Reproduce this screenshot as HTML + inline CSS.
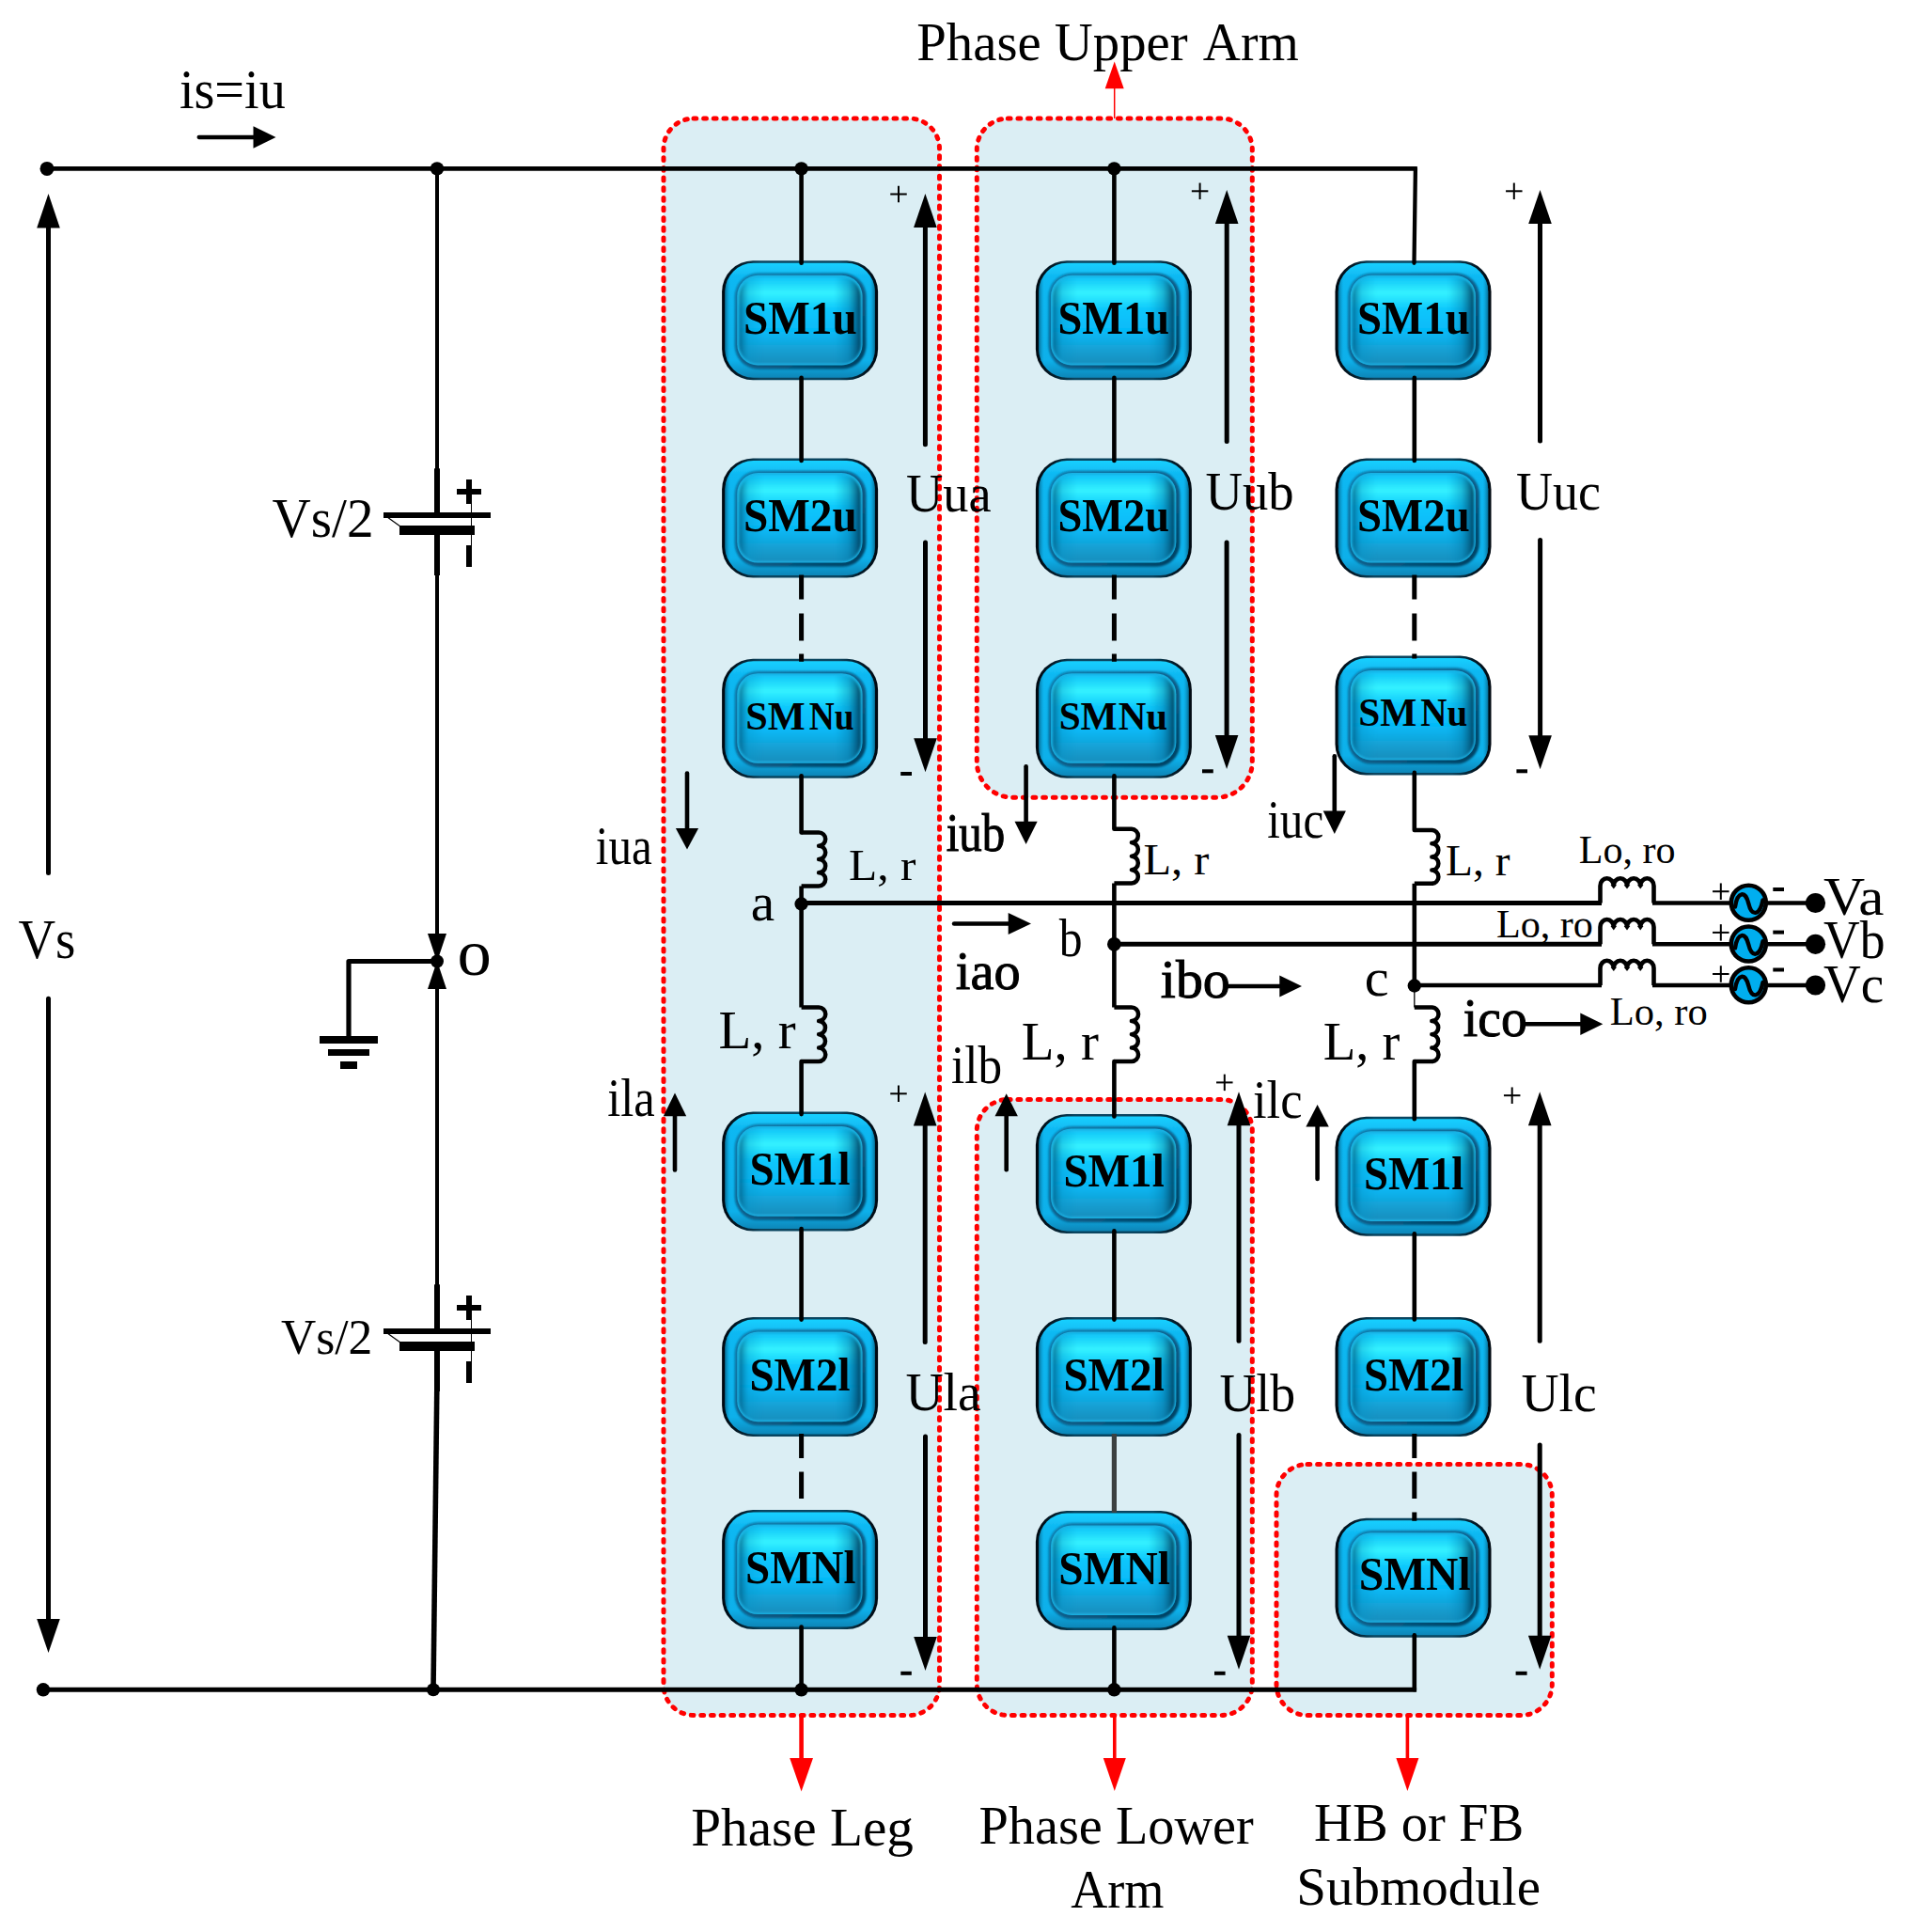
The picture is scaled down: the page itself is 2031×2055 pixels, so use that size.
<!DOCTYPE html>
<html><head><meta charset="utf-8"><title>MMC topology</title>
<style>
html,body{margin:0;padding:0;background:#fff;}
svg{display:block;}
text{font-family:"Liberation Serif",serif;}
</style></head><body>
<svg width="2031" height="2055" viewBox="0 0 2031 2055">
<defs>
<linearGradient id="gpanel" x1="0" y1="0" x2="0" y2="1">
<stop offset="0" stop-color="#10C4F8"/>
<stop offset="0.18" stop-color="#34F2FF"/>
<stop offset="0.38" stop-color="#0CC6FC"/>
<stop offset="0.62" stop-color="#06BAF8"/>
<stop offset="0.85" stop-color="#169FD2"/>
<stop offset="1" stop-color="#1A8FBE"/>
</linearGradient>
<linearGradient id="gside" x1="0" y1="0" x2="1" y2="0">
<stop offset="0" stop-color="#045A80" stop-opacity="0.8"/>
<stop offset="0.08" stop-color="#0890C4" stop-opacity="0.3"/>
<stop offset="0.2" stop-color="#0890C4" stop-opacity="0"/>
<stop offset="0.78" stop-color="#0890C4" stop-opacity="0"/>
<stop offset="0.9" stop-color="#0878A8" stop-opacity="0.45"/>
<stop offset="1" stop-color="#033E5C" stop-opacity="0.95"/>
</linearGradient>
<linearGradient id="gband" x1="0" y1="0" x2="0" y2="1">
<stop offset="0" stop-color="#18D0FF"/>
<stop offset="0.12" stop-color="#10B8F2"/>
<stop offset="0.85" stop-color="#10B0EA"/>
<stop offset="1" stop-color="#0C86B8"/>
</linearGradient>
<linearGradient id="gring" x1="0" y1="0" x2="1" y2="1">
<stop offset="0" stop-color="#0C7CAC"/>
<stop offset="0.5" stop-color="#08608C"/>
<stop offset="1" stop-color="#053E5E"/>
</linearGradient>
<linearGradient id="gouter" x1="0" y1="0" x2="1" y2="0">
<stop offset="0" stop-color="#000810"/>
<stop offset="0.12" stop-color="#041C2A"/>
<stop offset="0.25" stop-color="#0A4560"/>
<stop offset="0.75" stop-color="#0A4560"/>
<stop offset="0.88" stop-color="#041C2A"/>
<stop offset="1" stop-color="#000810"/>
</linearGradient>
<linearGradient id="gbside" x1="0" y1="0" x2="1" y2="0">
<stop offset="0" stop-color="#05506F" stop-opacity="0.7"/>
<stop offset="0.035" stop-color="#0890C4" stop-opacity="0"/>
<stop offset="0.965" stop-color="#0890C4" stop-opacity="0"/>
<stop offset="1" stop-color="#05506F" stop-opacity="0.7"/>
</linearGradient>
<filter id="b05" x="-10%" y="-10%" width="120%" height="120%"><feGaussianBlur stdDeviation="0.7"/></filter>
<filter id="b1" x="-10%" y="-10%" width="120%" height="120%"><feGaussianBlur stdDeviation="1.2"/></filter>
<filter id="b2" x="-10%" y="-10%" width="120%" height="120%"><feGaussianBlur stdDeviation="2"/></filter>
<g id="smb">
<rect x="0" y="0" width="166" height="127" rx="33" ry="33" fill="url(#gouter)"/>
<rect x="3.3" y="2.5" width="159.4" height="122" rx="30.2" ry="30.2" fill="url(#gband)" filter="url(#b05)"/>
<rect x="3.3" y="2.5" width="159.4" height="122" rx="30.2" ry="30.2" fill="url(#gbside)"/>
<rect x="13.6" y="13.2" width="139.8" height="102" rx="25" ry="25" fill="url(#gring)" filter="url(#b1)"/>
<rect x="16.2" y="15.5" width="133.2" height="95.6" rx="22" ry="22" fill="#1AB2E4" filter="url(#b05)"/>
<rect x="18.3" y="17.6" width="129.4" height="91.8" rx="20" ry="20" fill="url(#gpanel)" filter="url(#b1)"/>
<rect x="18.3" y="17.6" width="129.4" height="91.8" rx="20" ry="20" fill="url(#gside)" filter="url(#b1)"/>
</g>
</defs>
<rect width="2031" height="2055" fill="#fff"/>

<path d="M738,126 H967.5 A32,32 0 0 1 999.5,158 V1792.5 A32,32 0 0 1 967.5,1824.5 H738 A32,32 0 0 1 706,1792.5 V158 A32,32 0 0 1 738,126 Z" fill="#DBEEF4" stroke="#FF0000" stroke-width="5" stroke-dasharray="2.8 7.85" stroke-linecap="round"/>
<path d="M1072.3,126 H1299.3 A33,33 0 0 1 1332.3,159 V810.3 A38,38 0 0 1 1294.3,848.3 H1077.3 A38,38 0 0 1 1039.3,810.3 V159 A33,33 0 0 1 1072.3,126 Z" fill="#DBEEF4" stroke="#FF0000" stroke-width="5" stroke-dasharray="2.8 7.85" stroke-linecap="round"/>
<path d="M1072.3,1169.5 H1299.3 A33,33 0 0 1 1332.3,1202.5 V1791.5 A33,33 0 0 1 1299.3,1824.5 H1072.3 A33,33 0 0 1 1039.3,1791.5 V1202.5 A33,33 0 0 1 1072.3,1169.5 Z" fill="#DBEEF4" stroke="#FF0000" stroke-width="5" stroke-dasharray="2.8 7.85" stroke-linecap="round"/>
<path d="M1391,1557.5 H1618.3 A33,33 0 0 1 1651.3,1590.5 V1791.5 A33,33 0 0 1 1618.3,1824.5 H1391 A33,33 0 0 1 1358,1791.5 V1590.5 A33,33 0 0 1 1391,1557.5 Z" fill="#DBEEF4" stroke="#FF0000" stroke-width="5" stroke-dasharray="2.8 7.85" stroke-linecap="round"/>
<line x1="50" y1="179.4" x2="1507.8" y2="179.4" stroke="#000" stroke-width="4.8" stroke-linecap="butt"/>
<line x1="46" y1="1797.3" x2="1507.1" y2="1797.3" stroke="#000" stroke-width="5" stroke-linecap="butt"/>
<circle cx="50" cy="179.4" r="7.5" fill="#000"/>
<circle cx="46" cy="1797.3" r="7.2" fill="#000"/>
<circle cx="465" cy="179.4" r="7.2" fill="#000"/>
<circle cx="461" cy="1797.3" r="7" fill="#000"/>
<line x1="51.5" y1="928.4" x2="51.5" y2="241.5" stroke="#000" stroke-width="5" stroke-linecap="round"/>
<polygon points="39.2,242.5 63.8,242.5 51.5,206.0" fill="#000"/>
<line x1="51.5" y1="1062.3" x2="51.5" y2="1723" stroke="#000" stroke-width="5" stroke-linecap="round"/>
<polygon points="39.2,1722.0 63.8,1722.0 51.5,1758.0" fill="#000"/>
<text transform="translate(19.45,1018.60) scale(0.9294,1.0000)" font-size="59" fill="#000">Vs</text>
<text transform="translate(190.88,115.40) scale(0.9526,1.0000)" font-size="59" fill="#000">is=iu</text>
<line x1="211.65" y1="146" x2="270.5" y2="146" stroke="#000" stroke-width="4.3" stroke-linecap="round"/>
<polygon points="269.5,134.2 269.5,157.8 293.5,146.0" fill="#000"/>
<line x1="465" y1="179.4" x2="465" y2="548" stroke="#000" stroke-width="4" stroke-linecap="butt"/>
<line x1="465" y1="564" x2="465" y2="1000" stroke="#000" stroke-width="4" stroke-linecap="butt"/>
<line x1="465" y1="1045" x2="465" y2="1416" stroke="#000" stroke-width="4" stroke-linecap="butt"/>
<line x1="465" y1="1432" x2="465" y2="1480" stroke="#000" stroke-width="4" stroke-linecap="butt"/>
<line x1="464.8" y1="1478" x2="461" y2="1797.3" stroke="#000" stroke-width="5.6" stroke-linecap="butt"/>
<line x1="465" y1="498.3" x2="465" y2="548" stroke="#000" stroke-width="6" stroke-linecap="butt"/>
<line x1="465" y1="564" x2="465" y2="612" stroke="#000" stroke-width="6" stroke-linecap="butt"/>
<line x1="408" y1="548" x2="522" y2="548" stroke="#000" stroke-width="6" stroke-linecap="butt"/>
<line x1="425" y1="564" x2="505" y2="564" stroke="#000" stroke-width="10" stroke-linecap="butt"/>
<line x1="412" y1="550" x2="426" y2="560" stroke="#000" stroke-width="1.2" stroke-linecap="butt"/>
<line x1="486" y1="523" x2="512" y2="523" stroke="#000" stroke-width="6" stroke-linecap="butt"/>
<line x1="499" y1="510" x2="499" y2="536" stroke="#000" stroke-width="6" stroke-linecap="butt"/>
<line x1="501.5" y1="536" x2="501.5" y2="580" stroke="#000" stroke-width="1" stroke-linecap="butt"/>
<line x1="499" y1="580" x2="499" y2="603" stroke="#000" stroke-width="6" stroke-linecap="butt"/>
<line x1="465" y1="1366.3" x2="465" y2="1416" stroke="#000" stroke-width="6" stroke-linecap="butt"/>
<line x1="465" y1="1432" x2="465" y2="1480" stroke="#000" stroke-width="6" stroke-linecap="butt"/>
<line x1="408" y1="1416" x2="522" y2="1416" stroke="#000" stroke-width="6" stroke-linecap="butt"/>
<line x1="425" y1="1432" x2="505" y2="1432" stroke="#000" stroke-width="10" stroke-linecap="butt"/>
<line x1="412" y1="1418" x2="426" y2="1428" stroke="#000" stroke-width="1.2" stroke-linecap="butt"/>
<line x1="486" y1="1391" x2="512" y2="1391" stroke="#000" stroke-width="6" stroke-linecap="butt"/>
<line x1="499" y1="1378" x2="499" y2="1404" stroke="#000" stroke-width="6" stroke-linecap="butt"/>
<line x1="501.5" y1="1404" x2="501.5" y2="1448" stroke="#000" stroke-width="1" stroke-linecap="butt"/>
<line x1="499" y1="1448" x2="499" y2="1471" stroke="#000" stroke-width="6" stroke-linecap="butt"/>
<text transform="translate(289.43,571.00) scale(0.9696,1.0000)" font-size="59" fill="#000">Vs/2</text>
<text transform="translate(298.98,1439.50) scale(0.9729,1.0000)" font-size="53" fill="#000">Vs/2</text>
<polygon points="455.0,993.0 475.0,993.0 465.0,1023.0" fill="#000"/>
<polygon points="455.0,1052.0 475.0,1052.0 465.0,1022.0" fill="#000"/>
<circle cx="465" cy="1022.5" r="7" fill="#000"/>
<path d="M465,1022.5 H371 V1103" fill="none" stroke="#000" stroke-width="5.2" stroke-linejoin="round"/>
<line x1="340" y1="1106" x2="402" y2="1106" stroke="#000" stroke-width="8" stroke-linecap="butt"/>
<line x1="349" y1="1119.5" x2="393" y2="1119.5" stroke="#000" stroke-width="7" stroke-linecap="butt"/>
<line x1="362" y1="1133" x2="380" y2="1133" stroke="#000" stroke-width="8" stroke-linecap="butt"/>
<text transform="translate(486.60,1037.00) scale(1.0374,1.0000)" font-size="70" fill="#000">o</text>
<use href="#smb" x="768.1" y="277.3"/>
<use href="#smb" x="768.1" y="487.5"/>
<use href="#smb" x="768.1" y="700.7"/>
<use href="#smb" x="768.1" y="1182.6"/>
<use href="#smb" x="768.1" y="1401.1"/>
<use href="#smb" x="768.1" y="1606.0"/>
<text transform="translate(790.90,354.60) scale(0.9463,1.0000)" font-size="50" font-weight="bold" fill="#000">SM1u</text>
<text transform="translate(790.90,564.80) scale(0.9463,1.0000)" font-size="50" font-weight="bold" fill="#000">SM2u</text>
<text transform="translate(793.27,775.90) scale(0.9845,1.0000)" font-size="43" font-weight="bold" fill="#000">SM</text>
<text transform="translate(860.85,775.90) scale(0.8697,1.0000)" font-size="43" font-weight="bold" fill="#000">Nu</text>
<text transform="translate(797.41,1259.50) scale(0.9406,1.0000)" font-size="50" font-weight="bold" fill="#000">SM1l</text>
<text transform="translate(797.41,1478.70) scale(0.9406,1.0000)" font-size="50" font-weight="bold" fill="#000">SM2l</text>
<text transform="translate(793.01,1684.10) scale(0.9410,1.0000)" font-size="50" font-weight="bold" fill="#000">SMNl</text>
<use href="#smb" x="1101.9" y="277.3"/>
<use href="#smb" x="1101.9" y="487.5"/>
<use href="#smb" x="1101.9" y="700.7"/>
<use href="#smb" x="1101.9" y="1184.9"/>
<use href="#smb" x="1101.9" y="1401.1"/>
<use href="#smb" x="1101.9" y="1606.9"/>
<text transform="translate(1125.44,354.60) scale(0.9293,1.0000)" font-size="50" font-weight="bold" fill="#000">SM1u</text>
<text transform="translate(1125.44,564.80) scale(0.9293,1.0000)" font-size="50" font-weight="bold" fill="#000">SM2u</text>
<text transform="translate(1126.63,775.90) scale(0.9615,1.0000)" font-size="43" font-weight="bold" fill="#000">SM</text>
<text transform="translate(1189.68,775.90) scale(0.9529,1.0000)" font-size="43" font-weight="bold" fill="#000">Nu</text>
<text transform="translate(1131.41,1261.60) scale(0.9424,1.0000)" font-size="50" font-weight="bold" fill="#000">SM1l</text>
<text transform="translate(1131.41,1479.30) scale(0.9424,1.0000)" font-size="50" font-weight="bold" fill="#000">SM2l</text>
<text transform="translate(1126.29,1685.00) scale(0.9485,1.0000)" font-size="50" font-weight="bold" fill="#000">SMNl</text>
<use href="#smb" x="1420.5" y="277.3"/>
<use href="#smb" x="1420.5" y="487.5"/>
<use href="#smb" x="1420.5" y="697.4"/>
<use href="#smb" x="1420.5" y="1187.8"/>
<use href="#smb" x="1420.5" y="1400.9"/>
<use href="#smb" x="1420.5" y="1614.7"/>
<text transform="translate(1444.02,354.50) scale(0.9366,1.0000)" font-size="50" font-weight="bold" fill="#000">SM1u</text>
<text transform="translate(1444.02,564.60) scale(0.9366,1.0000)" font-size="50" font-weight="bold" fill="#000">SM2u</text>
<text transform="translate(1445.23,771.70) scale(0.9615,1.0000)" font-size="43" font-weight="bold" fill="#000">SM</text>
<text transform="translate(1511.22,771.70) scale(0.9075,1.0000)" font-size="43" font-weight="bold" fill="#000">Nu</text>
<text transform="translate(1450.93,1265.40) scale(0.9342,1.0000)" font-size="50" font-weight="bold" fill="#000">SM1l</text>
<text transform="translate(1450.93,1478.50) scale(0.9342,1.0000)" font-size="50" font-weight="bold" fill="#000">SM2l</text>
<text transform="translate(1445.78,1690.70) scale(0.9509,1.0000)" font-size="50" font-weight="bold" fill="#000">SMNl</text>
<line x1="852.6" y1="179.4" x2="852.6" y2="279.8" stroke="#000" stroke-width="4.6" stroke-linecap="round"/>
<line x1="852.6" y1="401.8" x2="852.6" y2="490.0" stroke="#000" stroke-width="4.6" stroke-linecap="round"/>
<line x1="852.6" y1="611.5" x2="852.6" y2="703.7" stroke="#000" stroke-width="5" stroke-linecap="butt" stroke-dasharray="26.0 15 29 14 40 0"/>
<line x1="852.6" y1="825.2" x2="852.6" y2="885.4" stroke="#000" stroke-width="4.6" stroke-linecap="round"/>
<path d="M852.6,885.4 H871.1 A7.12,7.12 0 0 1 871.1,899.65 A7.12,7.12 0 0 1 871.1,913.90 A7.12,7.12 0 0 1 871.1,928.15 A7.12,7.12 0 0 1 871.1,942.40 H852.6" fill="none" stroke="#000" stroke-width="4.5" stroke-linejoin="round"/>
<line x1="852.6" y1="942.4" x2="852.6" y2="1071.5" stroke="#000" stroke-width="4.6" stroke-linecap="butt"/>
<path d="M852.6,1071.5 H871.1 A7.19,7.19 0 0 1 871.1,1085.88 A7.19,7.19 0 0 1 871.1,1100.25 A7.19,7.19 0 0 1 871.1,1114.62 A7.19,7.19 0 0 1 871.1,1129.00 H852.6" fill="none" stroke="#000" stroke-width="4.5" stroke-linejoin="round"/>
<line x1="852.6" y1="1129" x2="852.6" y2="1185.1" stroke="#000" stroke-width="4.6" stroke-linecap="round"/>
<line x1="852.6" y1="1307.1" x2="852.6" y2="1403.6" stroke="#000" stroke-width="4.6" stroke-linecap="round"/>
<line x1="852.6" y1="1525.1" x2="852.6" y2="1603.0" stroke="#000" stroke-width="5" stroke-linecap="butt" stroke-dasharray="25.9 14.5 28.5 14.5 40 0"/>
<line x1="852.6" y1="1730.5" x2="852.6" y2="1797.3" stroke="#000" stroke-width="4.6" stroke-linecap="round"/>
<line x1="1185.4" y1="179.4" x2="1185.4" y2="279.8" stroke="#000" stroke-width="4.6" stroke-linecap="round"/>
<line x1="1185.4" y1="401.8" x2="1185.4" y2="490.0" stroke="#000" stroke-width="4.6" stroke-linecap="round"/>
<line x1="1185.4" y1="611.5" x2="1185.4" y2="703.7" stroke="#000" stroke-width="5" stroke-linecap="butt" stroke-dasharray="26.0 15 29 14 40 0"/>
<line x1="1185.4" y1="825.2" x2="1185.4" y2="881.8" stroke="#000" stroke-width="4.6" stroke-linecap="round"/>
<path d="M1185.4,881.8 H1203.9 A7.23,7.23 0 0 1 1203.9,896.25 A7.23,7.23 0 0 1 1203.9,910.70 A7.23,7.23 0 0 1 1203.9,925.15 A7.23,7.23 0 0 1 1203.9,939.60 H1185.4" fill="none" stroke="#000" stroke-width="4.5" stroke-linejoin="round"/>
<line x1="1185.4" y1="939.6" x2="1185.4" y2="1071.5" stroke="#000" stroke-width="4.6" stroke-linecap="butt"/>
<path d="M1185.4,1071.5 H1203.9 A7.19,7.19 0 0 1 1203.9,1085.88 A7.19,7.19 0 0 1 1203.9,1100.25 A7.19,7.19 0 0 1 1203.9,1114.62 A7.19,7.19 0 0 1 1203.9,1129.00 H1185.4" fill="none" stroke="#000" stroke-width="4.5" stroke-linejoin="round"/>
<line x1="1185.4" y1="1129" x2="1185.4" y2="1187.4" stroke="#000" stroke-width="4.6" stroke-linecap="round"/>
<line x1="1185.4" y1="1309.4" x2="1185.4" y2="1403.6" stroke="#000" stroke-width="4.6" stroke-linecap="round"/>
<line x1="1185.4" y1="1525.1" x2="1185.4" y2="1608.9" stroke="#3c4040" stroke-width="5.2" stroke-linecap="butt"/>
<line x1="1185.4" y1="1731.4" x2="1185.4" y2="1797.3" stroke="#000" stroke-width="4.6" stroke-linecap="round"/>
<line x1="1505.9" y1="179.4" x2="1504.5" y2="279.8" stroke="#000" stroke-width="4.3" stroke-linecap="round"/>
<line x1="1504.8" y1="401.8" x2="1504.8" y2="490.0" stroke="#000" stroke-width="4.6" stroke-linecap="round"/>
<line x1="1504.8" y1="611.5" x2="1504.8" y2="700.4" stroke="#000" stroke-width="5" stroke-linecap="butt" stroke-dasharray="26.0 15 29 14 40 0"/>
<line x1="1504.8" y1="821.9" x2="1504.8" y2="883" stroke="#000" stroke-width="4.6" stroke-linecap="round"/>
<path d="M1504.8,883 H1523.3 A7.10,7.10 0 0 1 1523.3,897.20 A7.10,7.10 0 0 1 1523.3,911.40 A7.10,7.10 0 0 1 1523.3,925.60 A7.10,7.10 0 0 1 1523.3,939.80 H1504.8" fill="none" stroke="#000" stroke-width="4.5" stroke-linejoin="round"/>
<line x1="1504.8" y1="939.8" x2="1504.8" y2="1050" stroke="#000" stroke-width="4.6" stroke-linecap="butt"/>
<line x1="1504.8" y1="1050" x2="1504.8" y2="1071.5" stroke="#000" stroke-width="1.3" stroke-linecap="butt"/>
<path d="M1504.8,1071.5 H1523.3 A7.19,7.19 0 0 1 1523.3,1085.88 A7.19,7.19 0 0 1 1523.3,1100.25 A7.19,7.19 0 0 1 1523.3,1114.62 A7.19,7.19 0 0 1 1523.3,1129.00 H1504.8" fill="none" stroke="#000" stroke-width="4.5" stroke-linejoin="round"/>
<line x1="1504.8" y1="1129" x2="1504.8" y2="1190.3" stroke="#000" stroke-width="4.6" stroke-linecap="round"/>
<line x1="1504.8" y1="1312.3" x2="1504.8" y2="1403.4" stroke="#000" stroke-width="4.6" stroke-linecap="round"/>
<line x1="1504.8" y1="1524.9" x2="1504.8" y2="1617.7" stroke="#000" stroke-width="5" stroke-linecap="butt" stroke-dasharray="26.1 14.5 28.5 14.5 40 0"/>
<line x1="1504.8" y1="1739.2" x2="1504.8" y2="1797.3" stroke="#000" stroke-width="4.6" stroke-linecap="round"/>
<circle cx="852.6" cy="179.4" r="7.2" fill="#000"/>
<circle cx="1185.4" cy="179.4" r="7.2" fill="#000"/>
<circle cx="852.6" cy="1797.3" r="7.2" fill="#000"/>
<circle cx="1185.4" cy="1797.3" r="7.2" fill="#000"/>
<line x1="852.6" y1="960.5" x2="1704" y2="960.5" stroke="#000" stroke-width="4.8" stroke-linecap="butt"/>
<line x1="1185.4" y1="1004.3" x2="1704" y2="1004.3" stroke="#000" stroke-width="5.0" stroke-linecap="butt"/>
<line x1="1504.8" y1="1048.0" x2="1704" y2="1048.0" stroke="#000" stroke-width="4.3" stroke-linecap="butt"/>
<circle cx="852.6" cy="961.5" r="7.2" fill="#000"/>
<circle cx="1185.4" cy="1004.3" r="7.4" fill="#000"/>
<circle cx="1504.8" cy="1048.5" r="7.2" fill="#000"/>
<path d="M1702.5,960.5 V942.2 A7.12,7.92 0 0 1 1716.75,942.2 A7.12,7.92 0 0 1 1731.00,942.2 A7.12,7.92 0 0 1 1745.25,942.2 A7.12,7.92 0 0 1 1759.50,942.2 V960.5" fill="none" stroke="#000" stroke-width="4.6" stroke-linejoin="miter"/>
<polygon points="1713.5,941.2 1720.0,941.2 1716.8,945.6" fill="#000"/>
<polygon points="1727.7,941.2 1734.3,941.2 1731.0,945.6" fill="#000"/>
<polygon points="1742.0,941.2 1748.5,941.2 1745.2,945.6" fill="#000"/>
<line x1="1758" y1="960.5" x2="1842" y2="960.5" stroke="#000" stroke-width="4.6" stroke-linecap="butt"/>
<line x1="1879" y1="960.5" x2="1931" y2="960.5" stroke="#000" stroke-width="4.6" stroke-linecap="butt"/>
<circle cx="1860.3" cy="960.2" r="18.5" fill="#00AEEF" stroke="#000" stroke-width="4.6"/>
<path d="M1846,964.5 C1848.5,948.0 1857,947.0 1860.3,961.0 C1863.5,974.5 1872,975.0 1875.5,957.5" fill="none" stroke="#000" stroke-width="4.4" stroke-linecap="round"/>
<circle cx="1931.5" cy="960.5" r="10.6" fill="#000"/>
<path d="M1702.5,1004.3 V986.0 A7.12,7.92 0 0 1 1716.75,986.0 A7.12,7.92 0 0 1 1731.00,986.0 A7.12,7.92 0 0 1 1745.25,986.0 A7.12,7.92 0 0 1 1759.50,986.0 V1004.3" fill="none" stroke="#000" stroke-width="4.6" stroke-linejoin="miter"/>
<polygon points="1713.5,985.0 1720.0,985.0 1716.8,989.4" fill="#000"/>
<polygon points="1727.7,985.0 1734.3,985.0 1731.0,989.4" fill="#000"/>
<polygon points="1742.0,985.0 1748.5,985.0 1745.2,989.4" fill="#000"/>
<line x1="1758" y1="1004.3" x2="1842" y2="1004.3" stroke="#000" stroke-width="4.6" stroke-linecap="butt"/>
<line x1="1879" y1="1004.3" x2="1931" y2="1004.3" stroke="#000" stroke-width="4.6" stroke-linecap="butt"/>
<circle cx="1860.3" cy="1004.0" r="18.5" fill="#00AEEF" stroke="#000" stroke-width="4.6"/>
<path d="M1846,1008.3 C1848.5,991.8 1857,990.8 1860.3,1004.8 C1863.5,1018.3 1872,1018.8 1875.5,1001.3" fill="none" stroke="#000" stroke-width="4.4" stroke-linecap="round"/>
<circle cx="1931.5" cy="1004.3" r="10.6" fill="#000"/>
<path d="M1702.5,1048.0 V1029.7 A7.12,7.92 0 0 1 1716.75,1029.7 A7.12,7.92 0 0 1 1731.00,1029.7 A7.12,7.92 0 0 1 1745.25,1029.7 A7.12,7.92 0 0 1 1759.50,1029.7 V1048.0" fill="none" stroke="#000" stroke-width="4.6" stroke-linejoin="miter"/>
<polygon points="1713.5,1028.7 1720.0,1028.7 1716.8,1033.1" fill="#000"/>
<polygon points="1727.7,1028.7 1734.3,1028.7 1731.0,1033.1" fill="#000"/>
<polygon points="1742.0,1028.7 1748.5,1028.7 1745.2,1033.1" fill="#000"/>
<line x1="1758" y1="1048.0" x2="1842" y2="1048.0" stroke="#000" stroke-width="4.6" stroke-linecap="butt"/>
<line x1="1879" y1="1048.0" x2="1931" y2="1048.0" stroke="#000" stroke-width="4.6" stroke-linecap="butt"/>
<circle cx="1860.3" cy="1047.7" r="18.5" fill="#00AEEF" stroke="#000" stroke-width="4.6"/>
<path d="M1846,1052.0 C1848.5,1035.5 1857,1034.5 1860.3,1048.5 C1863.5,1062.0 1872,1062.5 1875.5,1045.0" fill="none" stroke="#000" stroke-width="4.4" stroke-linecap="round"/>
<circle cx="1931.5" cy="1048.0" r="10.6" fill="#000"/>
<line x1="1822.05" y1="948.2" x2="1839.55" y2="948.2" stroke="#000" stroke-width="2.0" stroke-linecap="butt"/>
<line x1="1830.8" y1="939.45" x2="1830.8" y2="956.95" stroke="#000" stroke-width="2.0" stroke-linecap="butt"/>
<line x1="1822.05" y1="991.9" x2="1839.55" y2="991.9" stroke="#000" stroke-width="2.0" stroke-linecap="butt"/>
<line x1="1830.8" y1="983.15" x2="1830.8" y2="1000.65" stroke="#000" stroke-width="2.0" stroke-linecap="butt"/>
<line x1="1822.05" y1="1036" x2="1839.55" y2="1036" stroke="#000" stroke-width="2.0" stroke-linecap="butt"/>
<line x1="1830.8" y1="1027.25" x2="1830.8" y2="1044.75" stroke="#000" stroke-width="2.0" stroke-linecap="butt"/>
<line x1="1886.3" y1="946" x2="1898" y2="946" stroke="#000" stroke-width="4" stroke-linecap="butt"/>
<line x1="1886.3" y1="991.6" x2="1898" y2="991.6" stroke="#000" stroke-width="4" stroke-linecap="butt"/>
<line x1="1886.3" y1="1031.5" x2="1898" y2="1031.5" stroke="#000" stroke-width="4" stroke-linecap="butt"/>
<text transform="translate(1939.89,972.60) scale(1.0546,1.0000)" font-size="58" fill="#000">Va</text>
<text transform="translate(1939.96,1018.60) scale(0.9240,1.0000)" font-size="58" fill="#000">Vb</text>
<text transform="translate(1939.95,1065.50) scale(0.9502,1.0000)" font-size="58" fill="#000">Vc</text>
<text transform="translate(1679.74,917.60) scale(1.0025,1.0000)" font-size="42" fill="#000">Lo, ro</text>
<text transform="translate(1591.94,996.60) scale(1.0035,1.0000)" font-size="42" fill="#000">Lo, ro</text>
<text transform="translate(1712.72,1090.40) scale(1.0135,1.0000)" font-size="42" fill="#000">Lo, ro</text>
<line x1="984.4" y1="472.7" x2="984.4" y2="241" stroke="#000" stroke-width="5" stroke-linecap="round"/>
<polygon points="972.1,242.0 996.7,242.0 984.4,206.0" fill="#000"/>
<line x1="984.5" y1="577.0" x2="984.5" y2="786.3" stroke="#000" stroke-width="5" stroke-linecap="round"/>
<polygon points="972.2,785.3 996.8,785.3 984.5,821.3" fill="#000"/>
<line x1="1305.2" y1="469.5" x2="1305.2" y2="237" stroke="#000" stroke-width="5" stroke-linecap="round"/>
<polygon points="1292.9,238.0 1317.5,238.0 1305.2,202.0" fill="#000"/>
<line x1="1305.1" y1="576.9" x2="1305.1" y2="783" stroke="#000" stroke-width="5" stroke-linecap="round"/>
<polygon points="1292.8,782.0 1317.4,782.0 1305.1,818.0" fill="#000"/>
<line x1="1638.5" y1="469.1" x2="1638.5" y2="237" stroke="#000" stroke-width="5" stroke-linecap="round"/>
<polygon points="1626.2,238.0 1650.8,238.0 1638.5,202.0" fill="#000"/>
<line x1="1638.6" y1="574.5" x2="1638.6" y2="783.2" stroke="#000" stroke-width="5" stroke-linecap="round"/>
<polygon points="1626.3,782.2 1650.9,782.2 1638.6,818.2" fill="#000"/>
<line x1="984.2" y1="1427.5" x2="984.2" y2="1196.5" stroke="#000" stroke-width="5" stroke-linecap="round"/>
<polygon points="971.9,1197.5 996.5,1197.5 984.2,1161.5" fill="#000"/>
<line x1="984.5" y1="1528.1" x2="984.5" y2="1742" stroke="#000" stroke-width="5" stroke-linecap="round"/>
<polygon points="972.2,1741.0 996.8,1741.0 984.5,1777.0" fill="#000"/>
<line x1="1318" y1="1426.3" x2="1318" y2="1196.3" stroke="#000" stroke-width="5" stroke-linecap="round"/>
<polygon points="1305.7,1197.3 1330.3,1197.3 1318.0,1161.3" fill="#000"/>
<line x1="1318" y1="1526.5" x2="1318" y2="1740.8" stroke="#000" stroke-width="5" stroke-linecap="round"/>
<polygon points="1305.7,1739.8 1330.3,1739.8 1318.0,1775.8" fill="#000"/>
<line x1="1638.2" y1="1426.2" x2="1638.2" y2="1196.3" stroke="#000" stroke-width="5" stroke-linecap="round"/>
<polygon points="1625.9,1197.3 1650.5,1197.3 1638.2,1161.3" fill="#000"/>
<line x1="1638.2" y1="1537.1" x2="1638.2" y2="1740.8" stroke="#000" stroke-width="5" stroke-linecap="round"/>
<polygon points="1625.9,1739.8 1650.5,1739.8 1638.2,1775.8" fill="#000"/>
<text transform="translate(963.91,544.30) scale(0.9382,1.0000)" font-size="58" fill="#000">Uua</text>
<text transform="translate(1282.41,541.80) scale(0.9431,1.0000)" font-size="58" fill="#000">Uub</text>
<text transform="translate(1612.92,541.80) scale(0.9320,1.0000)" font-size="58" fill="#000">Uuc</text>
<text transform="translate(963.39,1500.30) scale(0.9767,1.0000)" font-size="57" fill="#000">Ula</text>
<text transform="translate(1297.52,1500.50) scale(0.9430,1.0000)" font-size="57" fill="#000">Ulb</text>
<text transform="translate(1618.39,1500.50) scale(0.9747,1.0000)" font-size="57" fill="#000">Ulc</text>
<line x1="947.25" y1="206.5" x2="964.75" y2="206.5" stroke="#000" stroke-width="2.0" stroke-linecap="butt"/>
<line x1="956" y1="197.75" x2="956" y2="215.25" stroke="#000" stroke-width="2.0" stroke-linecap="butt"/>
<line x1="1267.85" y1="203.3" x2="1285.35" y2="203.3" stroke="#000" stroke-width="2.0" stroke-linecap="butt"/>
<line x1="1276.6" y1="194.55" x2="1276.6" y2="212.05" stroke="#000" stroke-width="2.0" stroke-linecap="butt"/>
<line x1="1602.05" y1="203.3" x2="1619.55" y2="203.3" stroke="#000" stroke-width="2.0" stroke-linecap="butt"/>
<line x1="1610.8" y1="194.55" x2="1610.8" y2="212.05" stroke="#000" stroke-width="2.0" stroke-linecap="butt"/>
<line x1="958.2" y1="823" x2="970" y2="823" stroke="#000" stroke-width="4" stroke-linecap="butt"/>
<line x1="1279" y1="820.3" x2="1290.8" y2="820.3" stroke="#000" stroke-width="4" stroke-linecap="butt"/>
<line x1="1613.4" y1="820.3" x2="1625" y2="820.3" stroke="#000" stroke-width="4" stroke-linecap="butt"/>
<line x1="947.25" y1="1163.3" x2="964.75" y2="1163.3" stroke="#000" stroke-width="2.0" stroke-linecap="butt"/>
<line x1="956" y1="1154.55" x2="956" y2="1172.05" stroke="#000" stroke-width="2.0" stroke-linecap="butt"/>
<line x1="1294.05" y1="1151.4" x2="1311.55" y2="1151.4" stroke="#000" stroke-width="2.0" stroke-linecap="butt"/>
<line x1="1302.8" y1="1142.65" x2="1302.8" y2="1160.15" stroke="#000" stroke-width="2.0" stroke-linecap="butt"/>
<line x1="1599.95" y1="1165.2" x2="1617.45" y2="1165.2" stroke="#000" stroke-width="2.0" stroke-linecap="butt"/>
<line x1="1608.7" y1="1156.45" x2="1608.7" y2="1173.95" stroke="#000" stroke-width="2.0" stroke-linecap="butt"/>
<line x1="958.3" y1="1779.8" x2="969.8" y2="1779.8" stroke="#000" stroke-width="4" stroke-linecap="butt"/>
<line x1="1292" y1="1779.8" x2="1303.6" y2="1779.8" stroke="#000" stroke-width="4" stroke-linecap="butt"/>
<line x1="1612.6" y1="1779.8" x2="1624.6" y2="1779.8" stroke="#000" stroke-width="4" stroke-linecap="butt"/>
<line x1="731" y1="822.5" x2="731" y2="882.0" stroke="#000" stroke-width="4.6" stroke-linecap="round"/>
<polygon points="718.9,881.0 743.1,881.0 731.0,903.5" fill="#000"/>
<text transform="translate(633.82,918.70) scale(0.8461,1.0000)" font-size="58" fill="#000">iua</text>
<line x1="1091.6" y1="815.3" x2="1091.6" y2="874.7" stroke="#000" stroke-width="4.6" stroke-linecap="round"/>
<polygon points="1079.5,873.7 1103.7,873.7 1091.6,898.0" fill="#000"/>
<text transform="translate(1006.72,904.50) scale(0.8437,1.0000)" font-size="58" stroke="#000" stroke-width="1.0" fill="#000">iub</text>
<line x1="1419.8" y1="804.3" x2="1419.8" y2="863.5" stroke="#000" stroke-width="4.6" stroke-linecap="round"/>
<polygon points="1407.7,862.5 1431.9,862.5 1419.8,887.0" fill="#000"/>
<text transform="translate(1348.22,891.30) scale(0.8467,1.0000)" font-size="58" fill="#000">iuc</text>
<line x1="718" y1="1244.5" x2="718" y2="1186.3" stroke="#000" stroke-width="4.6" stroke-linecap="round"/>
<polygon points="705.8,1187.3 730.2,1187.3 718.0,1162.6" fill="#000"/>
<text transform="translate(646.19,1186.80) scale(0.8719,1.0000)" font-size="58" fill="#000">ila</text>
<line x1="1070.7" y1="1244.3" x2="1070.7" y2="1186.3" stroke="#000" stroke-width="4.6" stroke-linecap="round"/>
<polygon points="1058.5,1187.3 1082.9,1187.3 1070.7,1163.3" fill="#000"/>
<text transform="translate(1011.97,1151.60) scale(0.8837,1.0000)" font-size="58" fill="#000">ilb</text>
<line x1="1401.6" y1="1254.0" x2="1401.6" y2="1197.5" stroke="#000" stroke-width="4.6" stroke-linecap="round"/>
<polygon points="1389.4,1198.5 1413.8,1198.5 1401.6,1175.0" fill="#000"/>
<text transform="translate(1332.95,1188.80) scale(0.9074,1.0000)" font-size="58" fill="#000">ilc</text>
<line x1="1015.0999999999999" y1="982.5" x2="1073.7" y2="982.5" stroke="#000" stroke-width="4.6" stroke-linecap="round"/>
<polygon points="1072.7,971.0 1072.7,994.0 1097.0,982.5" fill="#000"/>
<text transform="translate(1016.87,1052.00) scale(0.9706,1.0000)" font-size="58" stroke="#000" stroke-width="1.0" fill="#000">iao</text>
<line x1="1306.3" y1="1049" x2="1362.3" y2="1049" stroke="#000" stroke-width="4.6" stroke-linecap="round"/>
<polygon points="1361.3,1037.5 1361.3,1060.5 1385.0,1049.0" fill="#000"/>
<text transform="translate(1234.84,1060.50) scale(0.9977,1.0000)" font-size="58" stroke="#000" stroke-width="1.0" fill="#000">ibo</text>
<line x1="1622.3" y1="1089.2" x2="1682.3" y2="1089.2" stroke="#000" stroke-width="4.6" stroke-linecap="round"/>
<polygon points="1681.3,1077.4 1681.3,1101.0 1705.3,1089.2" fill="#000"/>
<text transform="translate(1556.79,1101.70) scale(0.9587,1.0000)" font-size="58" stroke="#000" stroke-width="1.0" fill="#000">ico</text>
<text transform="translate(798.80,979.10) scale(1.0038,1.0000)" font-size="57" fill="#000">a</text>
<text transform="translate(1126.80,1016.50) scale(0.8851,1.0000)" font-size="56" fill="#000">b</text>
<text transform="translate(1451.66,1059.00) scale(1.0429,1.0000)" font-size="56" fill="#000">c</text>
<text transform="translate(903.12,936.30) scale(1.0525,1.0000)" font-size="47" fill="#000">L, r</text>
<text transform="translate(1216.45,930.30) scale(1.0298,1.0000)" font-size="47" fill="#000">L, r</text>
<text transform="translate(1538.08,930.50) scale(1.0070,1.0000)" font-size="47" fill="#000">L, r</text>
<text transform="translate(764.59,1114.90) scale(0.9977,1.0000)" font-size="57" fill="#000">L, r</text>
<text transform="translate(1086.79,1126.50) scale(0.9977,1.0000)" font-size="57" fill="#000">L, r</text>
<text transform="translate(1407.70,1126.50) scale(0.9939,1.0000)" font-size="57" fill="#000">L, r</text>
<line x1="1185.7" y1="93" x2="1185.7" y2="126" stroke="#FF0000" stroke-width="1.5" stroke-linecap="butt"/>
<polygon points="1175.7,94.3 1195.7,94.3 1185.7,65.5" fill="#FF0000"/>
<text transform="translate(975.30,64.20) scale(0.9953,1.0000)" font-size="57" fill="#000">Phase Upper</text>
<text transform="translate(1279.74,64.20) scale(0.9761,1.0000)" font-size="57" fill="#000">Arm</text>
<line x1="852.6" y1="1825.3" x2="852.6" y2="1871.0" stroke="#FF0000" stroke-width="4.6" stroke-linecap="round"/>
<polygon points="840.2,1870.0 865.0,1870.0 852.6,1905.5" fill="#FF0000"/>
<line x1="1185.8" y1="1824.8" x2="1185.8" y2="1871" stroke="#FF0000" stroke-width="3.6" stroke-linecap="round"/>
<polygon points="1173.8,1870.0 1197.8,1870.0 1185.8,1905.0" fill="#FF0000"/>
<line x1="1497.4" y1="1824.8" x2="1497.4" y2="1871" stroke="#FF0000" stroke-width="3.6" stroke-linecap="round"/>
<polygon points="1485.4,1870.0 1509.4,1870.0 1497.4,1905.0" fill="#FF0000"/>
<text transform="translate(735.28,1962.60) scale(1.0037,1.0000)" font-size="57" fill="#000">Phase Leg</text>
<text transform="translate(1041.51,1961.00) scale(0.9880,1.0000)" font-size="57" fill="#000">Phase Lower</text>
<text transform="translate(1139.16,2028.90) scale(0.9509,1.0000)" font-size="57" fill="#000">Arm</text>
<text transform="translate(1398.10,1958.00) scale(0.9928,1.0000)" font-size="57" fill="#000">HB or FB</text>
<text transform="translate(1379.29,2025.80) scale(1.0003,1.0000)" font-size="57" fill="#000">Submodule</text>
</svg></body></html>
